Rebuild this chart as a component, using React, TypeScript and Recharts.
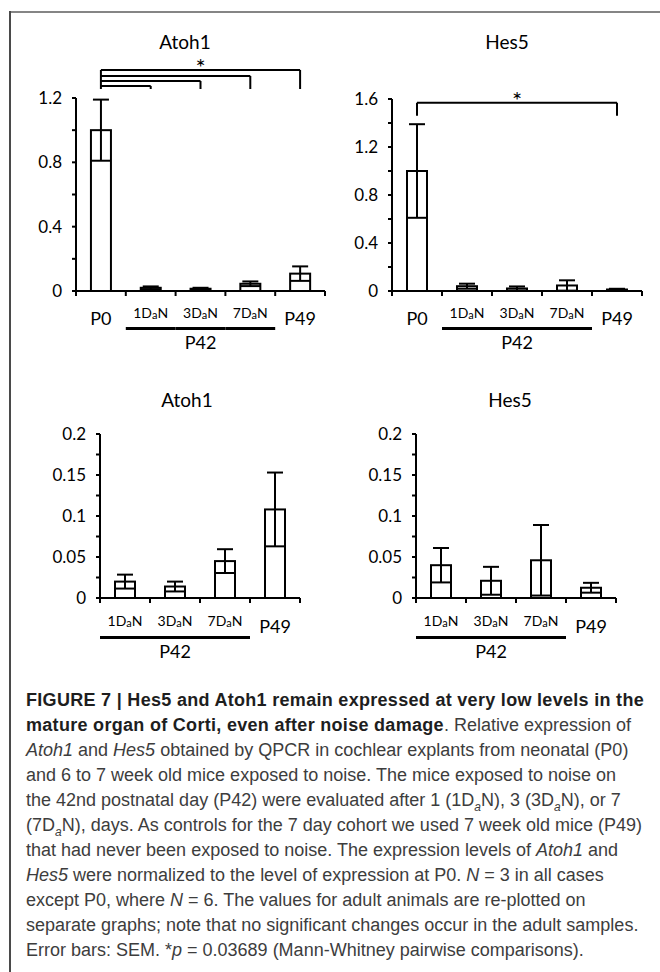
import React from 'react';
import { BarChart, Bar, XAxis, YAxis, ReferenceLine } from 'recharts';

const FONT = 'Lato, "Noto Sans", sans-serif';
const CAPTION_FONT = '"Liberation Sans", Arial, sans-serif';

// ---------- data ----------
const allCategories = ['P0', '1DaN', '3DaN', '7DaN', 'P49'];
const adultCategories = ['1DaN', '3DaN', '7DaN', 'P49'];

const atoh1Mean = [1.0, 0.02, 0.014, 0.045, 0.108];
const atoh1Sem = [0.19, 0.0085, 0.006, 0.0145, 0.045];
const hes5Mean = [1.0, 0.04, 0.021, 0.046, 0.0125];
const hes5Sem = [0.39, 0.021, 0.017, 0.043, 0.006];

const atoh1TopTicks = [0, 0.2, 0.4, 0.6, 0.8, 1.0, 1.2];
const atoh1TopLabels = ['0', '', '0.4', '', '0.8', '', '1.2'];
const hes5TopTicks = [0, 0.2, 0.4, 0.6, 0.8, 1.0, 1.2, 1.4, 1.6];
const hes5TopLabels = ['0', '', '0.4', '', '0.8', '', '1.2', '', '1.6'];
const adultTicks = [0, 0.025, 0.05, 0.075, 0.1, 0.125, 0.15, 0.175, 0.2];
const adultLabels = ['0', '', '0.05', '', '0.1', '', '0.15', '', '0.2'];

const p42Group = ['1DaN', '3DaN', '7DaN'];
const p42Label = 'P42';

const sigFrom = 'P0';
const atoh1SigTo = ['P49', '7DaN', '3DaN', '1DaN'];
const atoh1SigLevels = [1.374, 1.337, 1.306, 1.275];
const atoh1SigBase = 1.256;
const hes5SigTo = ['P49'];
const hes5SigLevels = [1.569];
const hes5SigBase = 1.46;
const sigMark = '*';

const buildData = (cats: string[], mean: number[], sem: number[]) =>
  cats.map((c) => {
    const i = allCategories.indexOf(c);
    return { cat: c, mean: mean[i], sem: sem[i] };
  });

const atoh1Top = buildData(allCategories, atoh1Mean, atoh1Sem);
const hes5Top = buildData(allCategories, hes5Mean, hes5Sem);
const atoh1Adult = buildData(adultCategories, atoh1Mean, atoh1Sem);
const hes5Adult = buildData(adultCategories, hes5Mean, hes5Sem);

// ---------- shapes ----------
const ErrBarShape = (props: any) => {
  const { x, y, width, height, payload } = props;
  if (!payload || !isFinite(height)) return null;
  const k = height / payload.mean;
  const cx = x + width / 2;
  const yLow = Math.min(y + payload.sem * k, y + height);
  const yHigh = y - payload.sem * k;
  const capHalf = width * 0.4;
  return (
    <g>
      <rect x={x} y={y} width={width} height={height} fill="#fff" stroke="#000" strokeWidth={2} />
      <line x1={x} x2={x + width} y1={yLow} y2={yLow} stroke="#000" strokeWidth={2} />
      <line x1={cx} x2={cx} y1={yLow} y2={yHigh} stroke="#000" strokeWidth={2} />
      <line x1={cx - capHalf} x2={cx + capHalf} y1={yHigh} y2={yHigh} stroke="#000" strokeWidth={2} />
    </g>
  );
};

const makeTick = (smallDy: number, bigDy: number, lineDy: number, groupDy: number) => (props: any) => {
  const { x, y, payload, index, visibleTicksCount, width } = props;
  let off = payload && payload.offset > 0 ? payload.offset : width / visibleTicksCount / 2;
  if (!isFinite(off)) off = 25;
  const val: string = payload.value;
  const isLast = index === visibleTicksCount - 1;
  const inGroup = p42Group.includes(val);
  const isMid = p42Group[Math.floor(p42Group.length / 2)] === val;
  const m = /^(\d+)Da(N)$/.exec(val);
  return (
    <g>
      <line x1={x - off} x2={x - off} y1={y} y2={y + 5} stroke="#000" strokeWidth={2} />
      {isLast && <line x1={x + off} x2={x + off} y1={y} y2={y + 5} stroke="#000" strokeWidth={2} />}
      {m ? (
        <text x={x} y={y + smallDy} textAnchor="middle" dominantBaseline="central" fontSize={14} fontFamily={FONT} fill="#000">
          {m[1]}D
          <tspan fontSize={11} dy={2}>a</tspan>
          <tspan dy={-2}>N</tspan>
        </text>
      ) : (
        <text x={x} y={y + bigDy} textAnchor="middle" dominantBaseline="central" fontSize={18} fontFamily={FONT} fill="#000">
          {val}
        </text>
      )}
      {inGroup && <line x1={x - off} x2={x + off} y1={y + lineDy} y2={y + lineDy} stroke="#000" strokeWidth={3} />}
      {isMid && (
        <text x={x} y={y + groupDy} textAnchor="middle" dominantBaseline="central" fontSize={18} fontFamily={FONT} fill="#000">
          {p42Label}
        </text>
      )}
    </g>
  );
};

const topTick = makeTick(21, 27, 37.5, 51);
const adultTick = makeTick(22, 28, 39.5, 53);

const yAxisProps = (ticks: number[], labels: string[], domain: [number, number]) => ({
  type: 'number' as const,
  domain,
  ticks,
  interval: 0 as const,
  allowDataOverflow: true,
  tickFormatter: (_v: any, i: number) => labels[i],
  tick: { fontSize: 17, fill: '#000', fontFamily: FONT },
  tickLine: { stroke: '#000', strokeWidth: 2 },
  axisLine: { stroke: '#000', strokeWidth: 2 },
  tickSize: 4,
  tickMargin: 10,
  width: 60,
});

const xAxisProps = (tick: any) => ({
  dataKey: 'cat',
  tick,
  tickLine: false,
  axisLine: { stroke: '#000', strokeWidth: 2 },
  tickSize: 0,
  tickMargin: 0,
  interval: 0 as const,
  height: 40,
});

const sigLines = (to: string[], levels: number[], base: number) => {
  const out: any[] = [];
  out.push(
    <ReferenceLine
      key="left"
      ifOverflow="visible"
      segment={[{ x: sigFrom, y: levels[0] }, { x: sigFrom, y: base }]}
      stroke="#000"
      strokeWidth={2}
    />
  );
  to.forEach((t, i) => {
    out.push(
      <ReferenceLine
        key={'h' + i}
        ifOverflow="visible"
        segment={[{ x: sigFrom, y: levels[i] }, { x: t, y: levels[i] }]}
        stroke="#000"
        strokeWidth={2}
        label={i === 0 ? { value: sigMark, position: 'top', offset: -6, fontSize: 24, fill: '#000', fontFamily: FONT } : undefined}
      />
    );
    out.push(
      <ReferenceLine
        key={'d' + i}
        ifOverflow="visible"
        segment={[{ x: t, y: levels[i] }, { x: t, y: base }]}
        stroke="#000"
        strokeWidth={2}
      />
    );
  });
  return out;
};

const Title = ({ text, cx, cy }: { text: string; cx: number; cy: number }) => (
  <div
    style={{
      position: 'absolute',
      left: cx - 60,
      top: cy - 12,
      width: 120,
      height: 24,
      lineHeight: '24px',
      textAlign: 'center',
      fontFamily: FONT,
      fontSize: 19,
      color: '#000',
    }}
  >
    {text}
  </div>
);

const Sub = () => (
  <sub style={{ fontSize: 12, lineHeight: 0, fontStyle: 'italic' }}>a</sub>
);

const boldStyle: React.CSSProperties = { color: '#1e1e1e', letterSpacing: '0.3px' };

export default function App() {
  return (
    <div style={{ position: 'absolute', left: 0, top: 0, width: 660, height: 972, overflow: 'hidden', background: '#fff' }}>
      {/* frame */}
      <div style={{ position: 'absolute', left: 10, top: 11, width: 650, height: 2, background: '#858585' }} />
      <div style={{ position: 'absolute', left: 9, top: 11, width: 1.5, height: 961, background: '#4a4a4a' }} />

      <Title text="Atoh1" cx={185} cy={42} />
      <Title text="Hes5" cx={507} cy={42} />
      <Title text="Atoh1" cx={187} cy={400} />
      <Title text="Hes5" cx={510} cy={400} />

      <div style={{ position: 'absolute', left: 0, top: 0 }}>
        <BarChart width={330} height={360} data={atoh1Top} margin={{ top: 98, right: 5, bottom: 29, left: 16 }} barCategoryGap="30%">
          <XAxis {...xAxisProps(topTick)} />
          <YAxis {...yAxisProps(atoh1TopTicks, atoh1TopLabels, [0, 1.2])} />
          <Bar dataKey="mean" shape={ErrBarShape} isAnimationActive={false} />
          {sigLines(atoh1SigTo, atoh1SigLevels, atoh1SigBase)}
        </BarChart>
      </div>

      <div style={{ position: 'absolute', left: 330, top: 0 }}>
        <BarChart width={330} height={360} data={hes5Top} margin={{ top: 99, right: 18, bottom: 29, left: 2 }} barCategoryGap="30%">
          <XAxis {...xAxisProps(topTick)} />
          <YAxis {...yAxisProps(hes5TopTicks, hes5TopLabels, [0, 1.6])} />
          <Bar dataKey="mean" shape={ErrBarShape} isAnimationActive={false} />
          {sigLines(hes5SigTo, hes5SigLevels, hes5SigBase)}
        </BarChart>
      </div>

      <div style={{ position: 'absolute', left: 0, top: 360 }}>
        <BarChart width={330} height={320} data={atoh1Adult} margin={{ top: 74, right: 30, bottom: 42, left: 40 }} barCategoryGap="30%">
          <XAxis {...xAxisProps(adultTick)} />
          <YAxis {...yAxisProps(adultTicks, adultLabels, [0, 0.2])} />
          <Bar dataKey="mean" shape={ErrBarShape} isAnimationActive={false} />
        </BarChart>
      </div>

      <div style={{ position: 'absolute', left: 330, top: 360 }}>
        <BarChart width={330} height={320} data={hes5Adult} margin={{ top: 74, right: 44, bottom: 42, left: 26 }} barCategoryGap="30%">
          <XAxis {...xAxisProps(adultTick)} />
          <YAxis {...yAxisProps(adultTicks, adultLabels, [0, 0.2])} />
          <Bar dataKey="mean" shape={ErrBarShape} isAnimationActive={false} />
        </BarChart>
      </div>

      {/* caption */}
      <div
        style={{
          position: 'absolute',
          left: 26,
          top: 688,
          fontFamily: CAPTION_FONT,
          fontSize: 18,
          lineHeight: '25px',
          color: '#3d3d3d',
          whiteSpace: 'nowrap',
        }}
      >
        <div>
          <b style={boldStyle}>FIGURE 7 | Hes5 and Atoh1 remain expressed at very low levels in the</b>
        </div>
        <div>
          <b style={boldStyle}>mature organ of Corti, even after noise damage</b>. Relative expression of
        </div>
        <div>
          <i>Atoh1</i> and <i>Hes5</i> obtained by QPCR in cochlear explants from neonatal (P0)
        </div>
        <div>and 6 to 7 week old mice exposed to noise. The mice exposed to noise on</div>
        <div>
          the 42nd postnatal day (P42) were evaluated after 1 (1D<Sub />N), 3 (3D<Sub />N), or 7
        </div>
        <div>
          (7D<Sub />N), days. As controls for the 7 day cohort we used 7 week old mice (P49)
        </div>
        <div>
          that had never been exposed to noise. The expression levels of <i>Atoh1</i> and
        </div>
        <div>
          <i>Hes5</i> were normalized to the level of expression at P0. <i>N</i> = 3 in all cases
        </div>
        <div>
          except P0, where <i>N</i> = 6. The values for adult animals are re-plotted on
        </div>
        <div>separate graphs; note that no significant changes occur in the adult samples.</div>
        <div>
          Error bars: SEM. *<i>p</i> = 0.03689 (Mann-Whitney pairwise comparisons).
        </div>
      </div>
    </div>
  );
}
